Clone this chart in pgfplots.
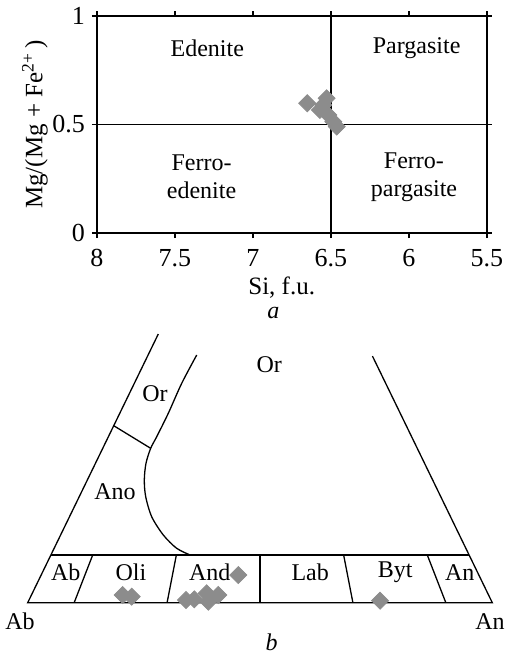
\documentclass[border=0pt]{standalone}
\usepackage{fontspec}
\setmainfont{Liberation Serif}
\usepackage{pgfplots}
\pgfplotsset{compat=1.18}
\definecolor{mk}{RGB}{140,140,140}
\begin{document}
\begin{tikzpicture}[font=\fontsize{12}{14}\selectfont]
\useasboundingbox (0pt,0pt) rectangle (253.5pt,-327.5pt);
% ---------- (a) ----------
\begin{axis}[
  at={(48.5pt,-116.5pt)}, anchor=south west,
  scale only axis, width=195pt, height=108.5pt,
  xmin=5.5, xmax=8, ymin=0, ymax=1, x dir=reverse,
  xtick={8,7.5,7,6.5,6,5.5}, xticklabels={8,7.5,7,6.5,6,5.5},
  ytick={0,0.5,1}, yticklabels={0,0.5,1},
  tick align=outside, major tick length=2.5pt,
  every tick/.style={black, line width=0.65pt},
  axis line style={line width=0.65pt},
  tick label style={font=\fontsize{13}{15}\selectfont},
  xticklabel style={yshift=-2pt},
  label style={font=\fontsize{12.5}{14}\selectfont},
  xlabel={Si, f.u.},
  xlabel style={at={(axis description cs:0.4736,-0.25)}, anchor=center},
  ylabel={Mg/(Mg + Fe\textsuperscript{2+}\,)},
  ylabel style={at={(axis description cs:-0.159,0.5)}, anchor=center, rotate=0},
  clip=false,
]
\addplot[black, line width=0.65pt] coordinates {(6.5,0) (6.5,1)};
\addplot[black, line width=0.65pt] coordinates {(5.5,0.5) (8,0.5)};
\addplot[only marks, mark=square*, mark size=3pt, color=mk, mark options={rotate=45, draw=none, fill=mk}] coordinates {
 (6.652,0.598) (6.528,0.621) (6.549,0.590) (6.571,0.567) (6.517,0.544) (6.485,0.513) (6.463,0.490)
};
\node at (axis cs:7.293,0.851) {Edenite};
\node at (axis cs:5.951,0.854) {Pargasite};
\node[align=center] at (axis cs:7.33,0.258) {Ferro-\\edenite};
\node[align=center] at (axis cs:5.968,0.256) {Ferro-\\pargasite};
\node at (axis description cs:0.452,-0.37) {\textit{a}};
\end{axis}
% ---------- (b) ----------
\begin{axis}[
  at={(13.85pt,-301.35pt)}, anchor=south west,
  scale only axis, width=232.3pt, height=143.4pt,
  xmin=0, xmax=1, ymin=0, ymax=0.6,
  hide axis, clip=false,
]
\addplot[black, line width=0.65pt] coordinates {(0.2811,0.5621) (0,0) (1,0) (0.742,0.516)};
\addplot[black, line width=0.65pt] coordinates {(0.05,0.1) (0.95,0.1)};
\addplot[black, line width=0.65pt] coordinates {(0.1,0) (0.14,0.1)};
\addplot[black, line width=0.65pt] coordinates {(0.3,0) (0.32,0.1)};
\addplot[black, line width=0.65pt] coordinates {(0.5,0) (0.5,0.1)};
\addplot[black, line width=0.65pt] coordinates {(0.7,0) (0.68,0.1)};
\addplot[black, line width=0.65pt] coordinates {(0.9,0) (0.86,0.1)};
\addplot[black, line width=0.65pt] coordinates {(0.1852,0.3703) (0.2647,0.3230)};
\addplot[black, line width=0.65pt, smooth, tension=0.5] coordinates {
 (0.3638,0.5182) (0.3315,0.4590) (0.3026,0.3962) (0.2777,0.3473) (0.2647,0.3230)
 (0.2546,0.2916) (0.2510,0.2567) (0.2540,0.2218) (0.2669,0.1799) (0.2919,0.1416)
 (0.3207,0.1138) (0.3493,0.1)
};
\addplot[only marks, mark=square*, mark size=3pt, color=mk, mark options={rotate=45, draw=none, fill=mk}] coordinates {
 (0.2045,0.0161) (0.2239,0.0126) (0.3407,0.0056) (0.3586,0.0071) (0.3853,0.0197)
 (0.3887,0.0021) (0.4102,0.0161) (0.4533,0.0579) (0.7583,0.0042)
};
\node at (axis cs:0.520,0.497) {Or};
\node at (axis cs:0.274,0.438) {Or};
\node at (axis cs:0.188,0.232) {Ano};
\node at (axis cs:0.0818,0.0636) {Ab};
\node at (axis cs:0.222,0.0636) {Oli};
\node at (axis cs:0.392,0.0636) {And};
\node at (axis cs:0.608,0.0636) {Lab};
\node at (axis cs:0.791,0.0636) {Byt};
\node at (axis cs:0.930,0.0636) {An};
\node at (axis cs:-0.0166,-0.0397) {Ab};
\node at (axis cs:0.995,-0.0397) {An};
\node at (axis cs:0.525,-0.0837) {\textit{b}};
\end{axis}
\end{tikzpicture}
\end{document}
